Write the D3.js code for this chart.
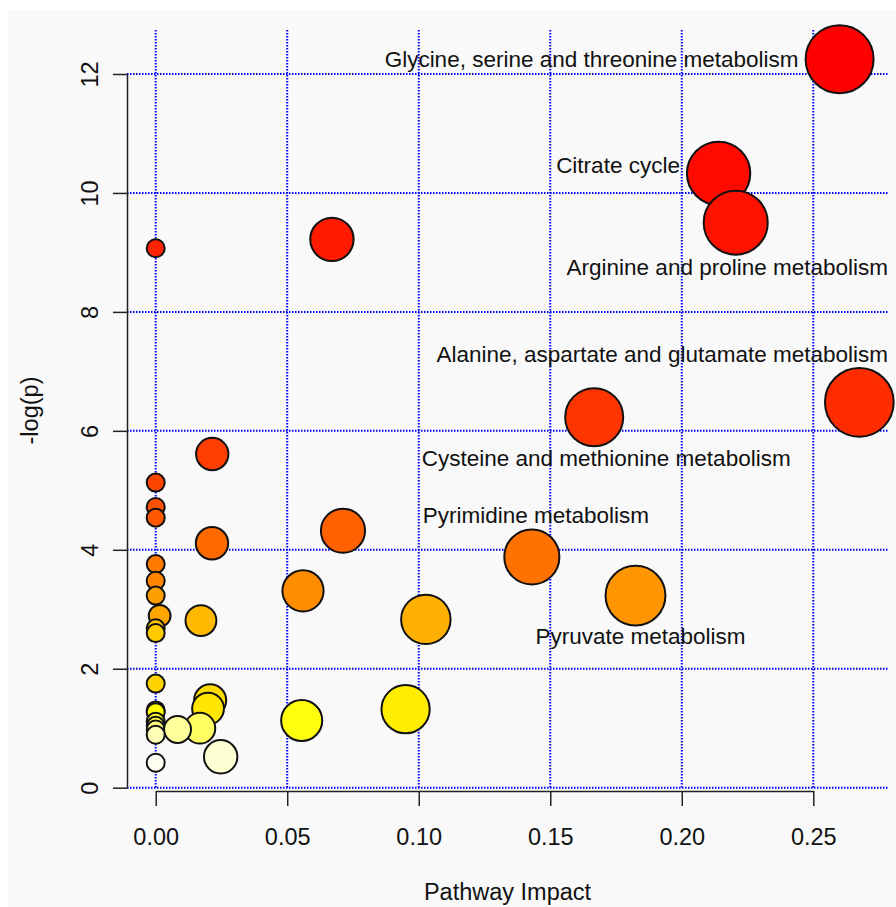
<!DOCTYPE html>
<meta charset='utf-8'>
<title>Pathway impact</title>
<style>
body {
  margin: 0;
  background-color: #fff;
}
text {
  font-family: "Liberation Sans", Arial, sans-serif;
  fill: #111;
}
</style>
<svg width="896" height="907"></svg>
<script src="https://d3js.org/d3.v7.min.js"></script>
<script>

// pathway impact (x) and -log(p) (y)
var impact = [0.2600, 0.2140, 0.2205, 0.0670, 0.0000, 0.2675, 0.1667, 0.0215,
              0.0000, 0.0000, 0.0000, 0.0712, 0.0214, 0.1430, 0.0000, 0.0000,
              0.0560, 0.1824, 0.0000, 0.0015, 0.1027, 0.0172, 0.0000, 0.0000,
              0.0000, 0.0207, 0.0950, 0.0199, 0.0000, 0.0000, 0.0555, 0.0000,
              0.0000, 0.0168, 0.0000, 0.0083, 0.0000, 0.0247, 0.0000];
var logp = [12.25, 10.33, 9.50, 9.22, 9.07, 6.48, 6.23, 5.61,
            5.13, 4.72, 4.54, 4.32, 4.11, 3.88, 3.76, 3.48,
            3.31, 3.23, 3.23, 2.89, 2.83, 2.81, 2.68, 2.60,
            1.75, 1.47, 1.32, 1.33, 1.30, 1.27, 1.13, 1.11,
            1.04, 1.00, 0.98, 0.98, 0.89, 0.52, 0.42];
var names = ["Glycine, serine and threonine metabolism", "Citrate cycle",
             "Arginine and proline metabolism", "", "",
             "Alanine, aspartate and glutamate metabolism",
             "Cysteine and methionine metabolism", "", "", "", "", "", "",
             "Pyrimidine metabolism", "", "", "", "Pyruvate metabolism"];

var xTicks = [0, 0.05, 0.10, 0.15, 0.20, 0.25];
var yTicks = [0, 2, 4, 6, 8, 10, 12];

// where each label sits relative to its bubble
var labelPlace = {
  "Glycine, serine and threonine metabolism": { side: "left", dx: 0, dy: 0 },
  "Citrate cycle": { side: "left", dx: 0, dy: -8 },
  "Arginine and proline metabolism": { side: "below", dx: 0, dy: 0 },
  "Alanine, aspartate and glutamate metabolism": { side: "above", dx: 0, dy: 0 },
  "Cysteine and methionine metabolism": { side: "below", dx: 12, dy: 0 },
  "Pyrimidine metabolism": { side: "above", dx: 4, dy: 0 },
  "Pyruvate metabolism": { side: "below", dx: 5, dy: -2 }
};

var svg = d3.select("svg");

// plot region
var plotLeft = 127, plotRight = 888, plotTop = 30, plotBottom = 791;

svg.append("rect")
    .attr("x", 8).attr("y", 10)
    .attr("width", 888).attr("height", 897)
    .attr("fill", "#f9f9f9");

var x = d3.scaleLinear().domain([0, 0.25]).range([155.7, 813.3]);
var y = d3.scaleLinear().domain([0, 12]).range([787.7, 74]);
var r = d3.scaleSqrt().domain([0, 0.26]).range([9, 34]);

// R style heat.colors(n)
function heatColors(n) {
  var j = Math.floor(n / 4), i = n - j, out = [];
  for (var k = 0; k < i; k++) out.push(d3.rgb(255, Math.round(255 * k / (i - 1)), 0).formatHex());
  for (var k = 0; k < j; k++) {
    var s = (1 - 1 / (2 * j)) - k * ((1 - 1 / j) / (j - 1));
    out.push(d3.rgb(255, 255, Math.round(255 * (1 - s))).formatHex());
  }
  return out;
}

var pts = impact.map(function(d, i) {
  return { x: d, y: logp[i], name: names[i] || "" };
});
pts.sort(function(a, b) { return b.y - a.y; });
var cols = heatColors(pts.length);

// grid
var grid = svg.append("g")
    .attr("stroke", "#0000ff")
    .attr("stroke-width", 2)
    .attr("stroke-dasharray", "1.5,1.5");

grid.selectAll("line.v")
    .data(xTicks)
  .enter().append("line")
    .attr("x1", x).attr("x2", x)
    .attr("y1", plotTop).attr("y2", y(0));

grid.selectAll("line.h")
    .data(yTicks)
  .enter().append("line")
    .attr("x1", plotLeft).attr("x2", plotRight)
    .attr("y1", y).attr("y2", y);

// axes
var xAxis = d3.axisBottom(x)
    .tickValues(xTicks)
    .tickFormat(d3.format(".2f"))
    .tickSize(15)
    .tickSizeOuter(0);

var gx = svg.append("g")
    .attr("transform", "translate(0," + plotBottom + ")")
    .call(xAxis);

var yAxis = d3.axisLeft(y)
    .tickValues(yTicks)
    .tickFormat(d3.format("d"))
    .tickSize(14)
    .tickSizeOuter(0);

var gy = svg.append("g")
    .attr("transform", "translate(" + plotLeft + ",0)")
    .call(yAxis);

[gx, gy].forEach(function(g) {
  g.select(".domain").attr("stroke", "#222").attr("stroke-width", 1.5);
  g.selectAll(".tick line").attr("stroke", "#222").attr("stroke-width", 1.5);
  g.selectAll("text")
      .attr("font-size", 23.5)
      .attr("font-family", "Liberation Sans, Arial, sans-serif")
      .attr("fill", "#111");
});

gx.selectAll(".tick text").attr("dy", 0).attr("y", 54);

gy.selectAll(".tick text")
    .attr("x", null).attr("dy", null)
    .attr("text-anchor", "middle")
    .attr("transform", "translate(-29,0) rotate(-90)");

svg.append("text")
    .attr("x", (plotLeft + plotRight) / 2)
    .attr("y", 900)
    .attr("text-anchor", "middle")
    .attr("font-size", 23.5)
    .text("Pathway Impact");

svg.append("text")
    .attr("transform", "translate(38," + (plotTop + plotBottom) / 2 + ") rotate(-90)")
    .attr("text-anchor", "middle")
    .attr("font-size", 23.5)
    .text("-log(p)");

// bubbles
svg.append("g").selectAll("circle")
    .data(pts)
  .enter().append("circle")
    .attr("cx", function(d) { return x(d.x); })
    .attr("cy", function(d) { return y(d.y); })
    .attr("r", function(d) { return r(d.x); })
    .attr("fill", function(d, i) { return cols[i]; })
    .attr("stroke", "#111")
    .attr("stroke-width", 2);

// labels
var labels = svg.append("g")
    .attr("font-size", 22.5);

pts.filter(function(d) { return d.name; }).forEach(function(d) {
  var p = labelPlace[d.name];
  var cx = x(d.x), cy = y(d.y), rad = r(d.x);
  var t = labels.append("text").text(d.name);
  if (p.side === "left") {
    t.attr("text-anchor", "end")
        .attr("x", cx - rad - 7 + p.dx)
        .attr("y", cy + 8 + p.dy);
    return;
  }
  var w = t.node().getComputedTextLength();
  var tx = cx + p.dx;
  if (tx + w / 2 > plotRight) tx = plotRight - w / 2;
  var ty = p.side === "above" ? cy - rad - 6 : cy + rad + 20;
  t.attr("text-anchor", "middle")
      .attr("x", tx)
      .attr("y", ty + p.dy);
});

</script>
